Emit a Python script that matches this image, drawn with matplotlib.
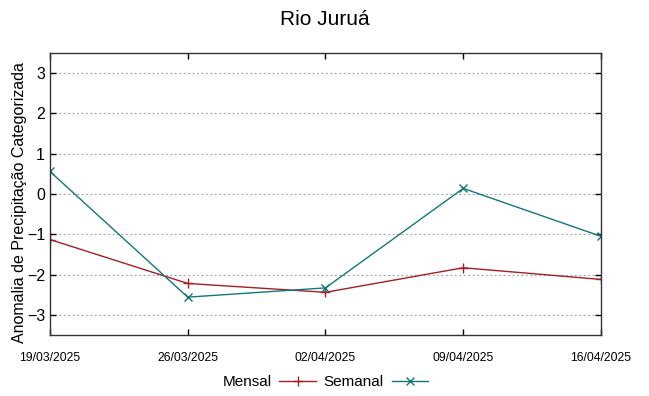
import numpy as np
import matplotlib
matplotlib.use('Agg')
import matplotlib.pyplot as plt

plt.rcParams['font.family'] = ['Liberation Sans', 'DejaVu Sans']

datas = ['19/03/2025', '26/03/2025', '02/04/2025', '09/04/2025', '16/04/2025']
mensal = [-1.13, -2.22, -2.44, -1.83, -2.12]
semanal = [0.56, -2.56, -2.33, 0.14, -1.05]

x = np.arange(len(datas))

fig = plt.figure(figsize=(6.49, 3.96), dpi=100)
ax = fig.add_axes([0.077, 0.154, 0.849, 0.712])

ax.plot(x, mensal, '-', marker='+', color='#a31f24', lw=1, ms=7, mew=1, label='Mensal')
ax.plot(x, semanal, '-', marker='x', color='#127878', lw=1, ms=6, mew=1, label='Semanal')

ax.set_xlim(0, len(datas) - 1)
ax.set_ylim(-3.5, 3.5)
ax.set_xticks(x)
ax.set_xticklabels(datas, fontsize=8.8)
ax.set_yticks(range(-3, 4))
ax.tick_params(axis='y', labelsize=11.5)
ax.tick_params(direction='in', top=True, right=True, length=4, width=1)
ax.tick_params(axis='x', pad=12)
ax.yaxis.grid(True, linestyle=(0, (1.5, 2.5)), color='#999999', lw=0.8)
for s in ax.spines.values():
    s.set_linewidth(1)
    s.set_color('#333333')

ax.set_ylabel('Anomalia de Precipitação Categorizada', fontsize=11.5)
ax.yaxis.set_label_coords(-0.042, 0.47)
fig.suptitle('Rio Juruá', fontsize=15, y=0.975)

ax.legend(loc='center', bbox_to_anchor=(0.5, -0.167), ncol=2, frameon=False,
          markerfirst=False, fontsize=11, handlelength=2.4, columnspacing=0.5,
          handletextpad=0.5)

fig.savefig('out.png', dpi=100)
